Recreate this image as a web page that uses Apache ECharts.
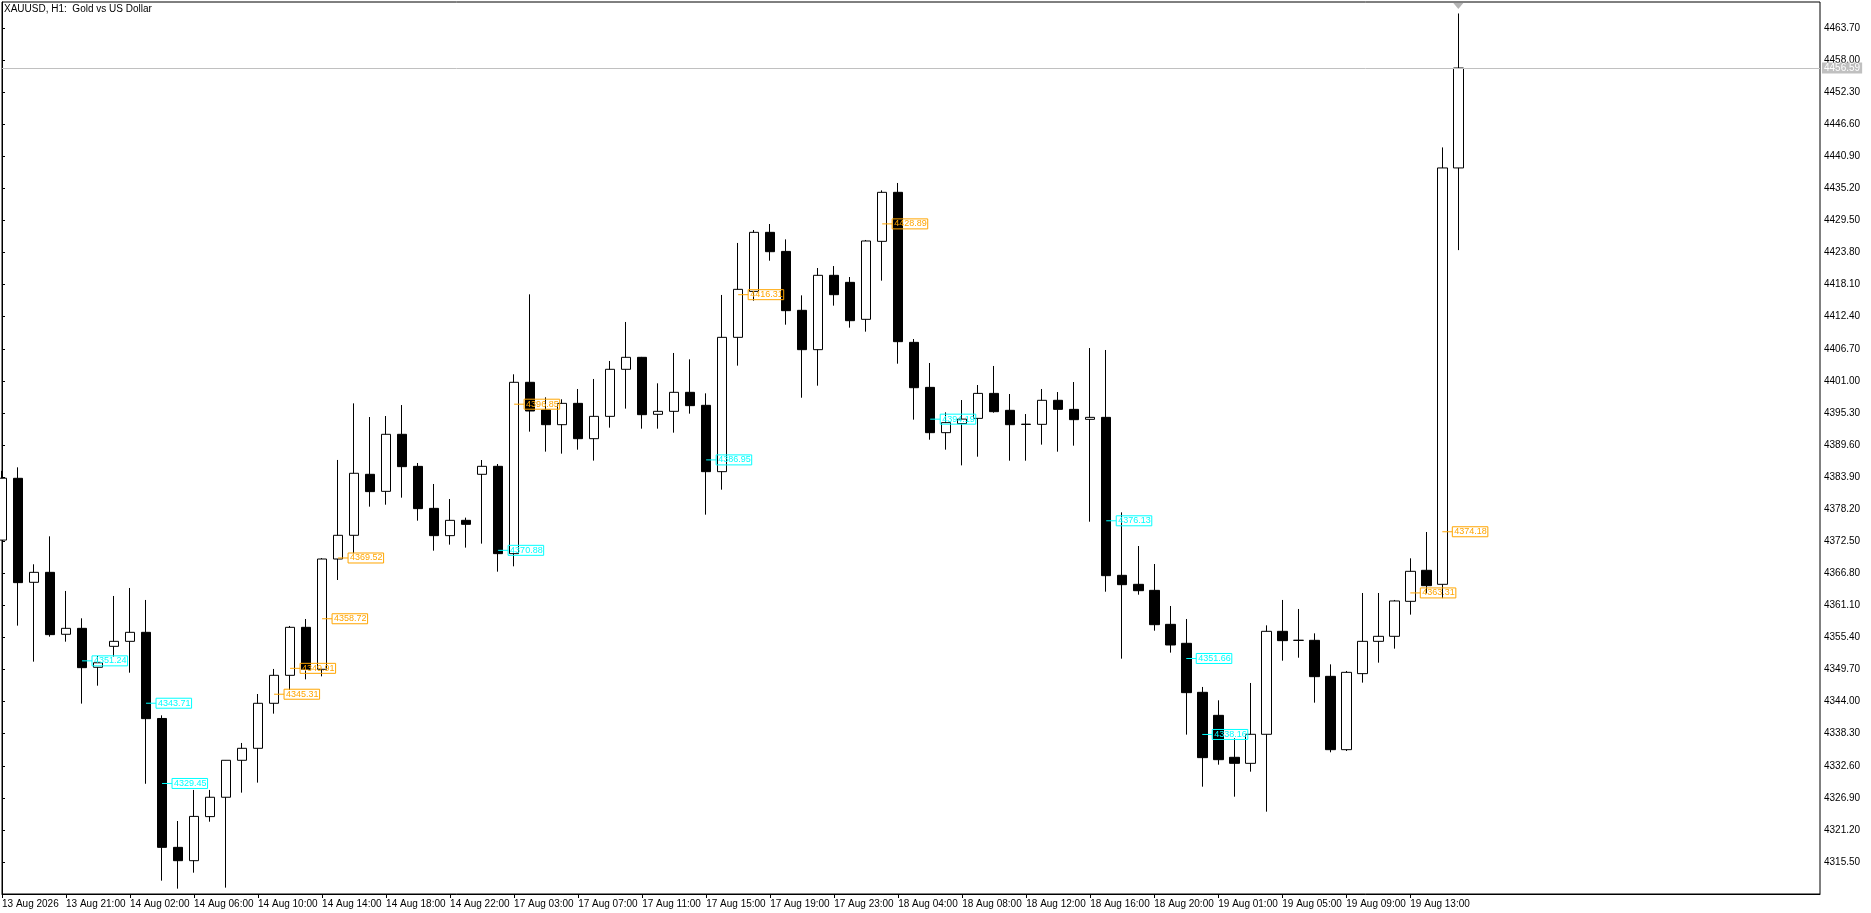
<!DOCTYPE html>
<html lang="en">
<head>
    <meta charset="UTF-8">
    <title>XAUUSD H1</title>
    <script src="https://cdn.jsdelivr.net/npm/echarts@6/dist/echarts.min.js"></script>
    <style>
        html, body {
            margin: 0;
            padding: 0;
            background: #fff;
        }
        #chart {
            width: 1871px;
            height: 913px;
        }
    </style>
</head>
<body>
<div id="chart"></div>
<script>
    // hourly bars, index 0 = 13 Aug 17:00
    var openPrices = [
        4372.70, 4383.68, 4365.20, 4366.97, 4355.96, 4357.02, 4350.10, 4353.82, 4354.71, 4356.31,
        4341.00, 4318.10, 4315.73, 4323.56, 4327.00, 4333.57, 4335.70, 4343.70, 4348.67, 4357.20,
        4349.74, 4369.34, 4373.55, 4384.39, 4381.36, 4391.50, 4385.80, 4378.34, 4373.49, 4376.21,
        4384.39, 4385.81, 4370.29, 4400.74, 4395.82, 4393.21, 4397.00, 4390.72, 4394.69, 4403.05,
        4405.18, 4395.05, 4395.58, 4398.96, 4396.65, 4384.86, 4408.73, 4416.90, 4427.39, 4424.00,
        4413.53, 4406.54, 4419.75, 4418.50, 4411.93, 4425.79, 4434.50, 4407.84, 4399.84, 4391.79,
        4393.40, 4394.33, 4398.77, 4395.76, 4393.30, 4393.27, 4397.54, 4395.93, 4394.16, 4394.51,
        4366.44, 4364.84, 4363.77, 4357.73, 4354.36, 4345.65, 4341.56, 4334.10, 4333.03, 4338.19,
        4356.49, 4354.90, 4354.89, 4348.49, 4335.46, 4348.97, 4354.71, 4355.60, 4361.82, 4367.33,
        4364.84, 4438.83
    ];
    var closePrices = [
        4383.70, 4365.14, 4366.97, 4355.90, 4357.02, 4350.03, 4350.90, 4354.71, 4356.31, 4340.97,
        4318.10, 4315.73, 4323.60, 4327.00, 4333.57, 4335.70, 4343.70, 4348.67, 4357.20, 4349.74,
        4369.34, 4373.55, 4384.57, 4381.31, 4391.50, 4385.75, 4378.29, 4373.49, 4376.21, 4375.50,
        4385.81, 4370.29, 4400.74, 4395.64, 4393.21, 4397.00, 4390.72, 4394.69, 4403.05, 4405.18,
        4394.99, 4395.58, 4398.96, 4396.59, 4384.86, 4408.73, 4417.26, 4427.39, 4423.95, 4413.47,
        4406.54, 4419.75, 4416.31, 4411.69, 4425.85, 4434.50, 4407.96, 4399.78, 4391.79, 4393.57,
        4394.20, 4398.77, 4395.52, 4393.21, 4393.25, 4397.54, 4395.93, 4394.10, 4394.51, 4366.38,
        4364.78, 4363.71, 4357.67, 4354.06, 4345.59, 4334.04, 4333.68, 4333.03, 4338.19, 4356.49,
        4354.83, 4354.88, 4348.43, 4335.46, 4349.20, 4354.71, 4355.60, 4361.88, 4367.15, 4364.60,
        4438.83, 4456.59
    ];
    var lowPrices = [
        4372.70, 4357.50, 4351.10, 4355.54, 4354.65, 4343.64, 4346.83, 4352.00, 4349.14, 4329.40,
        4312.18, 4310.76, 4313.60, 4322.66, 4310.94, 4327.82, 4329.60, 4341.86, 4346.06, 4347.96,
        4348.49, 4365.61, 4370.35, 4378.64, 4378.99, 4380.24, 4376.15, 4370.82, 4371.89, 4371.36,
        4372.07, 4367.09, 4368.04, 4391.97, 4388.42, 4388.06, 4388.77, 4386.82, 4392.68, 4396.06,
        4392.50, 4392.50, 4391.79, 4395.17, 4377.22, 4381.66, 4403.70, 4415.24, 4422.35, 4410.98,
        4398.00, 4400.14, 4414.36, 4410.45, 4409.74, 4418.80, 4404.05, 4394.10, 4390.54, 4388.77,
        4385.98, 4387.52, 4395.34, 4386.81, 4386.81, 4389.66, 4388.41, 4389.48, 4375.97, 4363.53,
        4351.63, 4363.00, 4356.60, 4352.70, 4338.13, 4328.88, 4332.79, 4327.10, 4331.55, 4324.44,
        4351.27, 4351.80, 4343.81, 4334.99, 4335.22, 4347.37, 4350.92, 4353.41, 4359.45, 4363.24,
        4362.38, 4424.23
    ];
    var highPrices = [
        4385.00, 4385.63, 4368.40, 4373.37, 4363.66, 4358.80, 4352.10, 4362.77, 4364.19, 4362.06,
        4341.56, 4322.78, 4328.30, 4328.30, 4333.60, 4336.65, 4345.35, 4349.80, 4357.44, 4358.68,
        4369.50, 4386.94, 4397.00, 4394.57, 4394.75, 4396.70, 4386.40, 4382.67, 4380.00, 4376.69,
        4386.93, 4386.22, 4402.16, 4416.37, 4398.07, 4397.72, 4399.55, 4401.33, 4404.53, 4411.46,
        4405.25, 4400.56, 4405.95, 4404.82, 4398.78, 4416.26, 4425.50, 4427.80, 4428.87, 4426.14,
        4416.19, 4421.05, 4421.40, 4419.45, 4426.03, 4434.85, 4436.16, 4408.43, 4404.17, 4395.40,
        4397.59, 4400.26, 4403.64, 4398.66, 4395.10, 4399.55, 4399.01, 4400.79, 4406.83, 4406.48,
        4377.63, 4371.65, 4368.45, 4360.99, 4358.68, 4346.60, 4344.23, 4337.48, 4347.31, 4357.55,
        4362.06, 4360.46, 4356.13, 4350.62, 4349.44, 4363.30, 4363.30, 4362.06, 4369.46, 4374.14,
        4442.48, 4466.28
    ];

    // time labels, one every 4 bars
    var labelBars = [0, 4, 8, 12, 16, 20, 24, 28, 32, 36, 40, 44, 48, 52, 56, 60, 64, 68, 72, 76, 80, 84, 88];
    var timeLabels = [
        '13 Aug 2026', '13 Aug 21:00', '14 Aug 02:00', '14 Aug 06:00', '14 Aug 10:00', '14 Aug 14:00',
        '14 Aug 18:00', '14 Aug 22:00', '17 Aug 03:00', '17 Aug 07:00', '17 Aug 11:00', '17 Aug 15:00',
        '17 Aug 19:00', '17 Aug 23:00', '18 Aug 04:00', '18 Aug 08:00', '18 Aug 12:00', '18 Aug 16:00',
        '18 Aug 20:00', '19 Aug 01:00', '19 Aug 05:00', '19 Aug 09:00', '19 Aug 13:00'
    ];

    // price scale
    var priceTicks = [
        4315.5, 4321.2, 4326.9, 4332.6, 4338.3, 4344.0, 4349.7, 4355.4, 4361.1, 4366.8,
        4372.5, 4378.2, 4383.9, 4389.6, 4395.3, 4401.0, 4406.7, 4412.4, 4418.1, 4423.8,
        4429.5, 4435.2, 4440.9, 4446.6, 4452.3, 4458.0, 4463.7
    ];
    var priceMin = 4309.81;
    var priceMax = 4468.32;
    var lastPrice = 4456.59;

    // level labels drawn on the chart
    var cyanBars = [5, 9, 10, 31, 44, 58, 69, 74, 75];
    var cyanPrices = [4351.24, 4343.71, 4329.45, 4370.88, 4386.95, 4394.19, 4376.13, 4351.66, 4338.16];
    var orangeBars = [17, 18, 20, 21, 32, 46, 55, 88, 90];
    var orangePrices = [4345.31, 4349.91, 4358.72, 4369.52, 4396.85, 4416.31, 4428.89, 4363.31, 4374.18];

    var candles = openPrices.map(function (o, i) {
        return [i, o, closePrices[i], lowPrices[i], highPrices[i]];
    });

    function levelSeries(bars, prices, color) {
        return {
            type: 'custom',
            silent: true,
            clip: false,
            z: 5,
            data: bars.map(function (b, i) { return [b, prices[i]]; }),
            renderItem: function (params, api) {
                var p = api.coord([api.value(0), api.value(1)]);
                return {
                    type: 'group',
                    children: [{
                        type: 'line',
                        shape: { x1: p[0], y1: p[1], x2: p[0] + 10, y2: p[1] },
                        style: { stroke: color, lineWidth: 1 }
                    }, {
                        type: 'text',
                        x: p[0] + 10,
                        y: p[1],
                        style: {
                            text: api.value(1).toFixed(2),
                            fill: color,
                            font: '9px "Liberation Sans"',
                            align: 'left',
                            verticalAlign: 'middle',
                            borderColor: color,
                            borderWidth: 1,
                            padding: [1, 1, 0, 2]
                        }
                    }]
                };
            }
        };
    }

    var chart = echarts.init(document.getElementById('chart'));

    var option = {
        animation: false,
        backgroundColor: '#fff',
        textStyle: { fontFamily: '"Liberation Sans"' },
        title: {
            text: 'XAUUSD, H1:  Gold vs US Dollar',
            left: 4,
            top: 4,
            padding: 0,
            textStyle: { fontSize: 10, fontWeight: 'normal', color: '#000', fontFamily: '"Liberation Sans"' }
        },
        grid: {
            left: 2,
            right: 51,
            top: 2,
            bottom: 19,
            containLabel: false,
            outerBoundsMode: 'none',
            show: true,
            borderColor: '#000',
            borderWidth: 1
        },
        xAxis: {
            type: 'value',
            min: 0,
            max: 113.6,
            axisLine: { show: true, lineStyle: { color: '#000', width: 1 } },
            axisTick: { show: true, customValues: labelBars, length: 4, lineStyle: { color: '#000' } },
            axisLabel: {
                customValues: labelBars,
                formatter: function (v) {
                    return timeLabels[labelBars.indexOf(v)];
                },
                align: 'left',
                margin: 5,
                color: '#000',
                fontSize: 10,
                fontFamily: '"Liberation Sans"'
            },
            splitLine: { show: false }
        },
        yAxis: {
            type: 'value',
            position: 'right',
            min: priceMin,
            max: priceMax,
            scale: true,
            axisLine: { show: true, lineStyle: { color: '#000', width: 1 } },
            axisTick: { show: true, customValues: priceTicks, length: 3, lineStyle: { color: '#000' } },
            axisLabel: {
                customValues: priceTicks,
                formatter: function (v) { return v.toFixed(2); },
                margin: 4,
                color: '#000',
                fontSize: 10,
                fontFamily: '"Liberation Sans"'
            },
            splitLine: { show: false }
        },
        series: [{
            type: 'candlestick',
            data: candles,
            barWidth: 10,
            clip: true,
            itemStyle: {
                color: '#fff',
                color0: '#000',
                borderColor: '#000',
                borderColor0: '#000',
                borderWidth: 1
            },
            markLine: {
                silent: true,
                symbol: ['none', 'none'],
                lineStyle: { color: '#c0c0c0', width: 1, type: 'solid' },
                label: {
                    show: true,
                    position: 'end',
                    distance: 2,
                    formatter: function () { return lastPrice.toFixed(2); },
                    color: '#fff',
                    backgroundColor: '#c0c0c0',
                    padding: [1, 2, 0, 2],
                    fontSize: 10,
                    fontFamily: '"Liberation Sans"'
                },
                data: [{ yAxis: lastPrice }]
            },
            markPoint: {
                silent: true,
                label: { show: false },
                data: [{
                    coord: [candles.length - 1, priceMax],
                    symbol: 'triangle',
                    symbolRotate: 180,
                    symbolSize: [10, 6],
                    symbolOffset: [0, 4],
                    itemStyle: { color: '#b4b4b4' }
                }]
            }
        },
            levelSeries(cyanBars, cyanPrices, '#00ffff'),
            levelSeries(orangeBars, orangePrices, '#ffa500')
        ]
    };

    chart.setOption(option);
</script>
</body>
</html>
